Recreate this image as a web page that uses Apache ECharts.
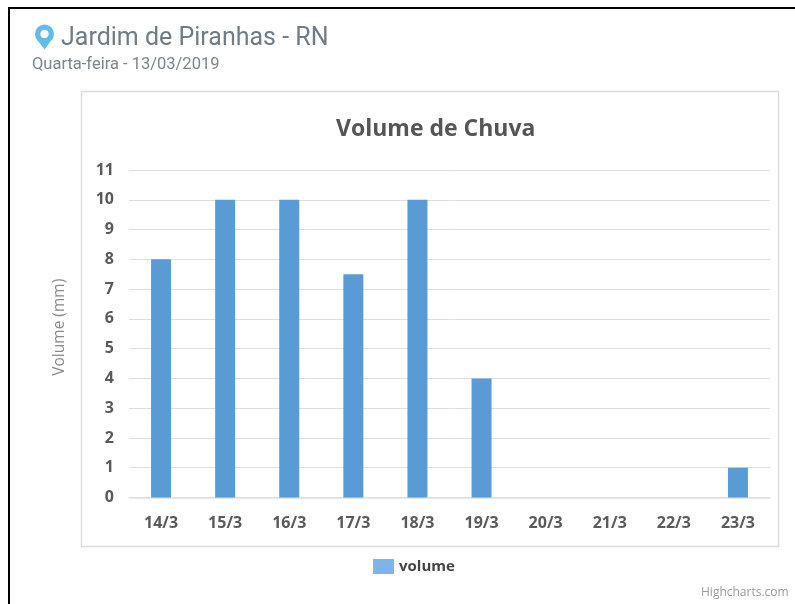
<!DOCTYPE html>
<html>
<head>
<meta charset="utf-8">
<title>Volume de Chuva</title>
<script src="https://cdn.jsdelivr.net/npm/echarts@6/dist/echarts.min.js"></script>
<style>
html, body { margin: 0; padding: 0; background: #fff; }
#chart { width: 795px; height: 604px; }
</style>
</head>
<body>
<div id="chart"></div>
<script>
var categories = ['14/3', '15/3', '16/3', '17/3', '18/3', '19/3', '20/3', '21/3', '22/3', '23/3'];
var volume = [8, 10, 10, 7.5, 10, 4, 0, 0, 0, 1];

var myChart = echarts.init(document.getElementById('chart'));
myChart.setOption({
	animation: false,
	backgroundColor: '#fff',
	color: ['#7cb5ec'],
	legend: {
		data: [{ name: 'volume', itemStyle: { color: '#7cb5ec' } }],
		left: 368,
		top: 554,
		itemWidth: 21,
		itemHeight: 15,
		itemGap: 8,
		icon: 'rect',
		textStyle: { fontFamily: 'Open Sans', fontSize: 15, fontWeight: 700, color: '#444' }
	},
	grid: { left: 129, right: 25, top: 170, bottom: 106.5 },
	xAxis: {
		type: 'category',
		data: categories,
		axisLine: { lineStyle: { color: '#e0e0e0', width: 1.5 } },
		axisTick: { length: 7, lineStyle: { color: '#dcdcdc' } },
		axisLabel: { fontFamily: 'Open Sans', fontSize: 16, fontWeight: 700, color: '#5a5a5a', margin: 18 }
	},
	yAxis: {
		type: 'value',
		min: 0,
		max: 11,
		interval: 1,
		name: 'Volume (mm)',
		nameLocation: 'middle',
		nameGap: 61,
		nameTextStyle: { fontFamily: 'Open Sans', fontSize: 15.5, color: '#8a8a8a', padding: [0, 0, 0, 13] },
		axisLine: { show: false },
		axisTick: { show: false },
		axisLabel: { fontFamily: 'Open Sans', fontSize: 16, fontWeight: 700, color: '#5a5a5a', margin: 15 },
		splitLine: { lineStyle: { color: '#dedede', width: 1 } }
	},
	series: [{
		name: 'volume',
		type: 'bar',
		data: volume,
		barWidth: 20,
		itemStyle: { color: '#5b9bd5' }
	}],
	graphic: [
		// moldura preta do print
		{ type: 'line', silent: true, shape: { x1: 8, y1: 8, x2: 795, y2: 8 }, style: { stroke: '#000', lineWidth: 2 } },
		{ type: 'line', silent: true, shape: { x1: 9, y1: 7, x2: 9, y2: 604 }, style: { stroke: '#000', lineWidth: 2 } },
		// caixa do grafico
		{ type: 'rect', silent: true, z: -1, shape: { x: 81.5, y: 91.5, width: 697, height: 455 }, style: { fill: '#fff', stroke: '#dcdcdc', lineWidth: 1.5 } },
		// icone do local
		{ type: 'polygon', silent: true, shape: { points: [[36, 38], [53, 38], [44.5, 49.5]] }, style: { fill: '#62bde6' } },
		{ type: 'ring', silent: true, shape: { cx: 44.5, cy: 34, r: 9.5, r0: 4.2 }, style: { fill: '#62bde6' } },
		{ type: 'text', silent: true, x: 61, y: 26, style: { text: 'Jardim de Piranhas - RN', fontFamily: 'Roboto', fontSize: 25, fill: '#6f7c86' } },
		{ type: 'text', silent: true, x: 32, y: 56, style: { text: 'Quarta-feira - 13/03/2019', fontFamily: 'Roboto', fontSize: 16.5, fill: '#7b858c' } },
		{ type: 'text', silent: true, x: 701, y: 587, style: { text: 'Highcharts.com', fontFamily: 'Open Sans', fontSize: 12, fill: '#999' } },
		{ type: 'text', silent: true, x: 336, y: 112, style: { text: 'Volume de Chuva', fontFamily: 'Open Sans', fontSize: 23, fontWeight: 700, fill: '#555', padding: [6, 0, 0, 0] } }
	]
});
</script>
</body>
</html>
